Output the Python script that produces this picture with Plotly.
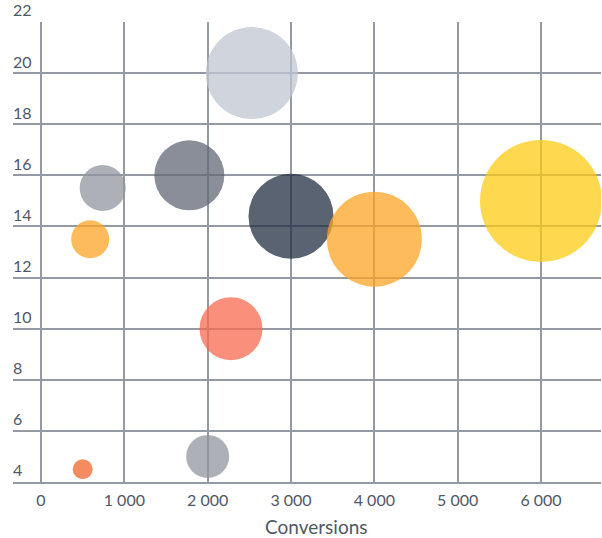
import plotly.graph_objects as go

# Data
conversions = [2530, 740, 1780, 3000, 4000, 6000, 590, 2280, 500, 2000]
metric = [20, 15.5, 16, 14.4, 13.5, 15, 13.5, 10, 4.5, 5]
bubble_size = [92, 46, 70, 85, 95, 122, 38, 63, 20, 43]
colors = ["#bfc6d2", "#92969f", "#636875", "#232f43", "#fca426",
          "#fecb14", "#fca426", "#f86b4f", "#f2662a", "#92969f"]

x_ticks = [0, 1000, 2000, 3000, 4000, 5000, 6000]
y_ticks = [4, 6, 8, 10, 12, 14, 16, 18, 20, 22]

FONT = "Lato"
TXT = "#505766"
GRID = "#9499a3"

fig = go.Figure()
fig.add_trace(go.Scatter(
    x=conversions, y=metric, mode="markers",
    marker=dict(size=bubble_size, sizemode="diameter", sizeref=1,
                color=colors, opacity=0.75, line=dict(width=0)),
    hoverinfo="x+y",
))

fig.update_layout(
    width=602, height=538,
    margin=dict(l=13, r=1, t=22, b=56),
    paper_bgcolor="white", plot_bgcolor="white",
    showlegend=False,
    separators=". ",
    font=dict(family=FONT, color=TXT, size=15),
    xaxis=dict(
        range=[-336, 6720], tickvals=x_ticks, tickformat=",d",
        showgrid=True, gridcolor=GRID, gridwidth=1.5,
        zeroline=False, showline=True, linecolor=GRID, linewidth=1.5,
        ticks="", ticklabelstandoff=3, tickfont=dict(size=16, color=TXT),
    ),
    yaxis=dict(
        range=[4, 22], tickvals=y_ticks,
        showgrid=True, gridcolor=GRID, gridwidth=1.5,
        zeroline=False, showline=False,
        ticks="", ticklabelposition="inside top", ticklabelstandoff=-3,
        ticklabeloverflow="allow",
        tickfont=dict(size=16, color=TXT),
    ),
    annotations=[dict(
        text="Conversions", xref="paper", yref="paper",
        x=(316 - 13) / (601 - 13), y=0, yshift=-44,
        xanchor="center", yanchor="middle", showarrow=False,
        font=dict(size=19, color=TXT, family=FONT),
    )],
)

fig.write_html("out.html")
